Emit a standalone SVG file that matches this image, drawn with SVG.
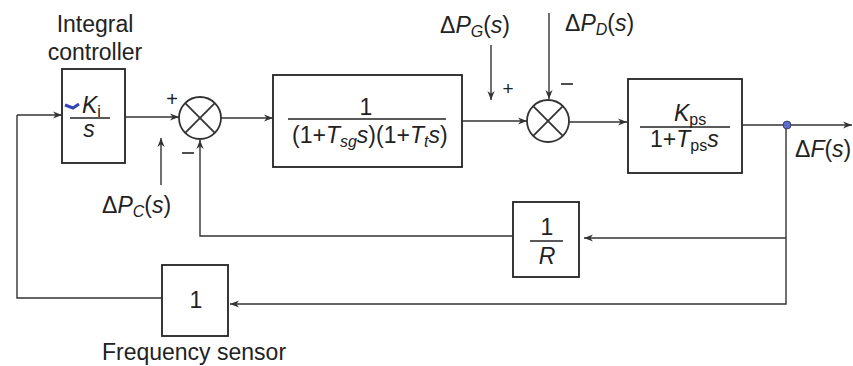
<svg xmlns="http://www.w3.org/2000/svg" width="853" height="366" viewBox="0 0 853 366">
<defs>
<style>
.box{fill:none;stroke:#222;stroke-width:1.8}
.sum{fill:none;stroke:#333;stroke-width:1.8}
.w{fill:none;stroke:#333;stroke-width:1.4}
.frac{stroke:#222;stroke-width:1.6}
text{font-family:"Liberation Sans",Arial,sans-serif;fill:#222;font-size:23px}
.it{font-style:italic}
.sub{font-size:16px;font-style:normal}
.c{text-anchor:middle}
</style>
<marker id="ah" viewBox="0 0 10 10" refX="10" refY="5" markerWidth="9" markerHeight="9" markerUnits="userSpaceOnUse" orient="auto">
<path d="M0,1 L10,5 L0,9 L3,5 Z" fill="#333"/>
</marker>
</defs>
<rect width="853" height="366" fill="#fff"/>

<g id="integral-controller">
<text x="95" y="32" class="c">Integral</text>
<text x="95" y="60" class="c">controller</text>
<rect class="box" x="62" y="69" width="63" height="94"/>
<path d="M65,105 L73,108 L79,104" stroke="#3344bb" stroke-width="3" fill="none"/>
<text x="82" y="113" class="it">K<tspan class="sub" dy="4">i</tspan></text>
<line class="frac" x1="70" y1="118" x2="110" y2="118"/>
<text x="89" y="137" class="it c">s</text>
</g>

<g id="summer1">
<circle class="sum" cx="200" cy="118" r="21"/>
<line class="sum" x1="185.2" y1="103.2" x2="214.8" y2="132.8"/>
<line class="sum" x1="214.8" y1="103.2" x2="185.2" y2="132.8"/>
<text x="172" y="106" class="c" style="font-size:20px">+</text>
<line class="frac" x1="182" y1="153" x2="194" y2="153"/>
</g>

<g id="governor-turbine">
<rect class="box" x="273" y="75" width="189" height="92"/>
<text x="366" y="115" class="c">1</text>
<line class="frac" x1="288" y1="119" x2="446" y2="119"/>
<text x="292" y="143">(1+<tspan class="it">T</tspan><tspan class="sub" dy="4" style="font-style:italic">sg</tspan><tspan class="it" dy="-4">s</tspan>)(1+<tspan class="it">T</tspan><tspan class="sub" dy="4" style="font-style:italic">t</tspan><tspan class="it" dy="-4">s</tspan>)</text>
</g>

<g id="summer2">
<circle class="sum" cx="548" cy="121" r="21"/>
<line class="sum" x1="533.2" y1="106.2" x2="562.8" y2="135.8"/>
<line class="sum" x1="562.8" y1="106.2" x2="533.2" y2="135.8"/>
<text x="508" y="95" class="c" style="font-size:19px">+</text>
<line class="frac" x1="561" y1="84" x2="573" y2="84"/>
</g>

<g id="power-system">
<rect class="box" x="628" y="79" width="114" height="94"/>
<text x="674" y="121" class="it">K<tspan class="sub" dy="4">ps</tspan></text>
<line class="frac" x1="640" y1="127" x2="730" y2="127"/>
<text x="650" y="147">1+<tspan class="it">T</tspan><tspan class="sub" dy="4">ps</tspan><tspan class="it" dy="-4">s</tspan></text>
</g>

<g id="droop">
<rect class="box" x="513" y="202" width="66" height="75"/>
<text x="547" y="235" class="c">1</text>
<line class="frac" x1="530" y1="241" x2="563" y2="241"/>
<text x="547" y="264" class="it c">R</text>
</g>

<g id="frequency-sensor">
<rect class="box" x="162" y="265" width="66" height="71"/>
<text x="196" y="308" class="c">1</text>
<text x="194" y="360" class="c">Frequency sensor</text>
</g>

<g id="labels">
<text x="440" y="33">Δ<tspan class="it">P</tspan><tspan class="sub" dy="4" style="font-style:italic">G</tspan><tspan dy="-4">(</tspan><tspan class="it">s</tspan>)</text>
<text x="565" y="31">Δ<tspan class="it">P</tspan><tspan class="sub" dy="4" style="font-style:italic">D</tspan><tspan dy="-4">(</tspan><tspan class="it">s</tspan>)</text>
<text x="102" y="213">Δ<tspan class="it">P</tspan><tspan class="sub" dy="4" style="font-style:italic">C</tspan><tspan dy="-4">(</tspan><tspan class="it">s</tspan>)</text>
<text x="795" y="157">Δ<tspan class="it">F</tspan>(<tspan class="it">s</tspan>)</text>
</g>

<g id="connectors">
<line class="w" x1="17" y1="115" x2="62" y2="115" marker-end="url(#ah)"/>
<path class="w" d="M162,298 H17 V115"/>
<line class="w" x1="125" y1="117" x2="179" y2="117" marker-end="url(#ah)"/>
<line class="w" x1="161" y1="185" x2="161" y2="138" marker-end="url(#ah)"/>
<path class="w" d="M513,236 H200 V140" marker-end="url(#ah)"/>
<line class="w" x1="221" y1="118" x2="273" y2="118" marker-end="url(#ah)"/>
<line class="w" x1="462" y1="121" x2="527" y2="121" marker-end="url(#ah)"/>
<line class="w" x1="491" y1="45" x2="491" y2="100" marker-end="url(#ah)"/>
<line class="w" x1="549" y1="13" x2="549" y2="99" marker-end="url(#ah)"/>
<line class="w" x1="569" y1="122" x2="627" y2="122" marker-end="url(#ah)"/>
<line class="w" x1="742" y1="125" x2="852" y2="125" marker-end="url(#ah)"/>
<path class="w" d="M786,125 V304 H230" marker-end="url(#ah)"/>
<line class="w" x1="786" y1="238" x2="584" y2="238" marker-end="url(#ah)"/>
<circle cx="787" cy="125" r="4" fill="#5a6ad0" stroke="#334" stroke-width="0.8"/>
</g>
</svg>
